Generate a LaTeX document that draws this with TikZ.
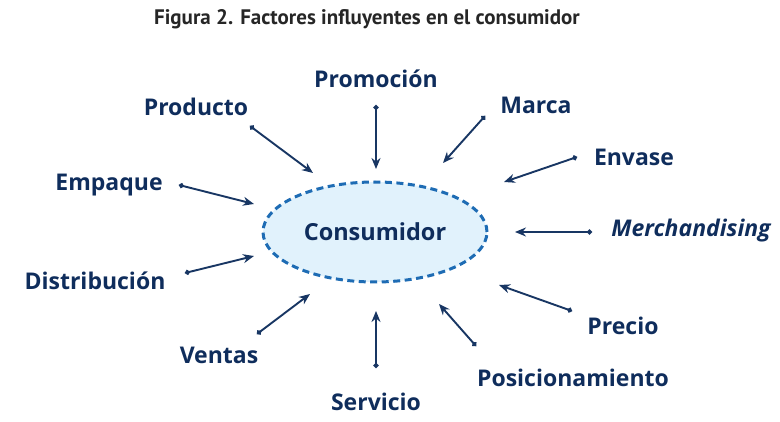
\documentclass[tikz,border=0pt]{standalone}
\usepackage{fontspec}
\setmainfont{Open Sans}
\newfontfamily\titlefont{PT Sans}
\usepackage{xcolor}
\usetikzlibrary{arrows.meta,shapes.geometric}

\definecolor{navy}{HTML}{0F2D5C}
\definecolor{arrownavy}{HTML}{183663}
\definecolor{ringblue}{HTML}{1E6CB4}
\definecolor{fillblue}{HTML}{E1F2FC}
\definecolor{titlegray}{HTML}{262626}

\begin{document}
\begin{tikzpicture}[
  x=1pt, y=-1pt,
  factor/.style={font=\fontsize{23}{25}\selectfont\bfseries, text=navy, inner sep=0pt},
  core/.style={ellipse, draw=ringblue, fill=fillblue, line width=3pt,
    dash pattern=on 7pt off 4.5pt, minimum width=224pt, minimum height=100pt,
    font=\fontsize{23.5}{25}\selectfont\bfseries, text=navy},
  arr/.style={{Circle[length=5pt]}-{Stealth[length=11pt,width=9pt]}, line width=1.9pt, draw=arrownavy}
]
  \useasboundingbox (0,0) rectangle (780,422);

  \node[font=\titlefont\fontsize{21}{23}\selectfont\bfseries, text=titlegray] (title) at (367,19)
    {Figura 2. Factores influyentes en el consumidor};

  \node[core] (consumidor) at (375,232) {Consumidor};

  % factores
  \node[factor] (promocion) at (376,79) {Promoción};
  \node[factor] (producto) at (196,107) {Producto};
  \node[factor] (marca) at (536,105) {Marca};
  \node[factor] (envase) at (634,157) {Envase};
  \node[factor] (empaque) at (109,185) {Empaque};
  \node[factor, font=\fontsize{23}{25}\selectfont\bfseries\itshape] (merch) at (691,231) {Merchandising};
  \node[factor] (distribucion) at (95,281) {Distribución};
  \node[factor] (precio) at (623,326) {Precio};
  \node[factor] (ventas) at (219,355) {Ventas};
  \node[factor] (posicion) at (573,378) {Posicionamiento};
  \node[factor] (servicio) at (376,402) {Servicio};

  % extremos de las flechas
  \coordinate (promocionA) at (376,105);  \coordinate (promocionB) at (376,169);
  \coordinate (productoA) at (250,126);   \coordinate (productoB) at (313,173);
  \coordinate (marcaA) at (485,116);      \coordinate (marcaB) at (443,163);
  \coordinate (envaseA) at (577,157);     \coordinate (envaseB) at (504,182);
  \coordinate (empaqueA) at (179,185);    \coordinate (empaqueB) at (254,204);
  \coordinate (merchA) at (592,232);      \coordinate (merchB) at (515,232);
  \coordinate (distribucionA) at (185,273); \coordinate (distribucionB) at (254,256);
  \coordinate (precioA) at (572,311);     \coordinate (precioB) at (499,285);
  \coordinate (ventasA) at (257,334);     \coordinate (ventasB) at (310,294);
  \coordinate (posicionA) at (476,346);   \coordinate (posicionB) at (439,304);
  \coordinate (servicioA) at (376,368);   \coordinate (servicioB) at (376,311);

  \draw[arr] (promocionA) -- (promocionB);
  \draw[arr] (productoA) -- (productoB);
  \draw[arr] (marcaA) -- (marcaB);
  \draw[arr] (envaseA) -- (envaseB);
  \draw[arr] (empaqueA) -- (empaqueB);
  \draw[arr] (merchA) -- (merchB);
  \draw[arr] (distribucionA) -- (distribucionB);
  \draw[arr] (precioA) -- (precioB);
  \draw[arr] (ventasA) -- (ventasB);
  \draw[arr] (posicionA) -- (posicionB);
  \draw[arr] (servicioA) -- (servicioB);
\end{tikzpicture}
\end{document}
